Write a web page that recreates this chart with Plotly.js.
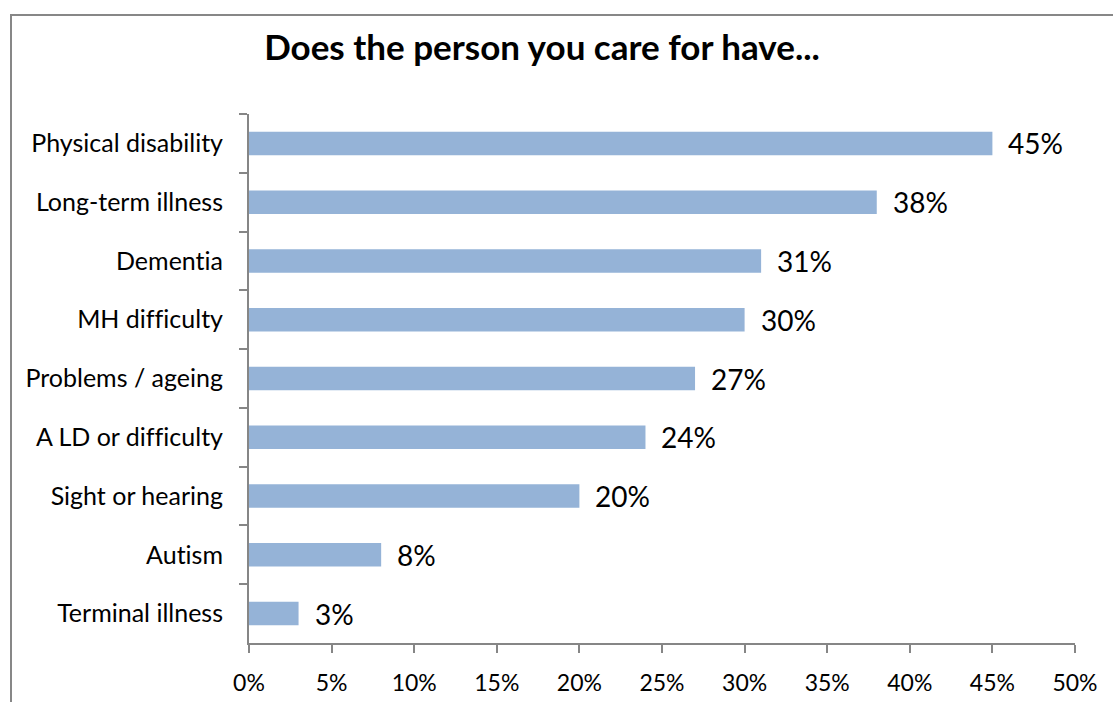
<!DOCTYPE html>
<html>
<head>
<meta charset="utf-8">
<script src="https://cdn.plot.ly/plotly-3.0.1.min.js"></script>
<style>html,body{margin:0;padding:0;background:#fff;}#chart{width:1113px;height:702px;}
#chart text{font-variant-ligatures:none;font-feature-settings:"liga" 0, "clig" 0;}</style>
</head>
<body>
<div id="chart"></div>
<script>
const categories = ["Physical disability","Long-term illness","Dementia","MH difficulty","Problems / ageing","A LD or difficulty","Sight or hearing","Autism","Terminal illness"];
const values = [45, 38, 31, 30, 27, 24, 20, 8, 3];
const tickVals = [0,5,10,15,20,25,30,35,40,45,50];
const tickText = tickVals.map(v => v + "%");
const chartTitle = "Does the person you care for have...";

const FONT = "Lato, 'Open Sans', sans-serif";
const grey = "#868686";

const trace = {
  type: "bar",
  orientation: "h",
  y: categories,
  x: values,
  marker: {color: "#95B3D7", line: {width: 0}},
  hoverinfo: "none"
};

const annotations = values.map((v, i) => ({
  x: v, y: categories[i], xref: "x", yref: "y",
  text: v + "%", showarrow: false, xanchor: "left", xshift: 14,
  font: {family: FONT, size: 28, color: "#000"}
}));

const layout = {
  width: 1113, height: 702,
  margin: {l: 249, r: 38, t: 114, b: 59},
  paper_bgcolor: "#fff", plot_bgcolor: "#fff",
  showlegend: false,
  bargap: 0.6,
  title: {text: "<b>" + chartTitle + "</b>", x: 0.487, xanchor: "center", y: 0.932, yanchor: "middle",
          font: {family: FONT, size: 35, color: "#000"}},
  xaxis: {
    range: [0, 50], tickvals: tickVals, ticktext: tickText,
    showgrid: false, zeroline: false, showline: true, linecolor: grey, linewidth: 2,
    ticks: "outside", ticklen: 8, tickwidth: 2, tickcolor: grey,
    tickfont: {family: FONT, size: 23, color: "#000"}, ticklabelstandoff: 10, fixedrange: true
  },
  yaxis: {
    autorange: "reversed", type: "category",
    showgrid: false, zeroline: false, showline: true, linecolor: grey, linewidth: 2,
    ticks: "outside", tickson: "boundaries", ticklen: 8, tickwidth: 2, tickcolor: grey,
    tickfont: {family: FONT, size: 25, color: "#000"}, ticklabelstandoff: 19, fixedrange: true
  },
  annotations: annotations,
  shapes: [{
    type: "rect", xref: "paper", yref: "paper",
    x0: (11 - 249) / 826, x1: (1120 - 249) / 826,
    y0: (643 - 710) / 529, y1: (643 - 15) / 529,
    line: {color: "#878787", width: 2}, fillcolor: "rgba(0,0,0,0)", layer: "below"
  }]
};

Plotly.newPlot("chart", [trace], layout, {displayModeBar: false, staticPlot: true});
</script>
</body>
</html>
